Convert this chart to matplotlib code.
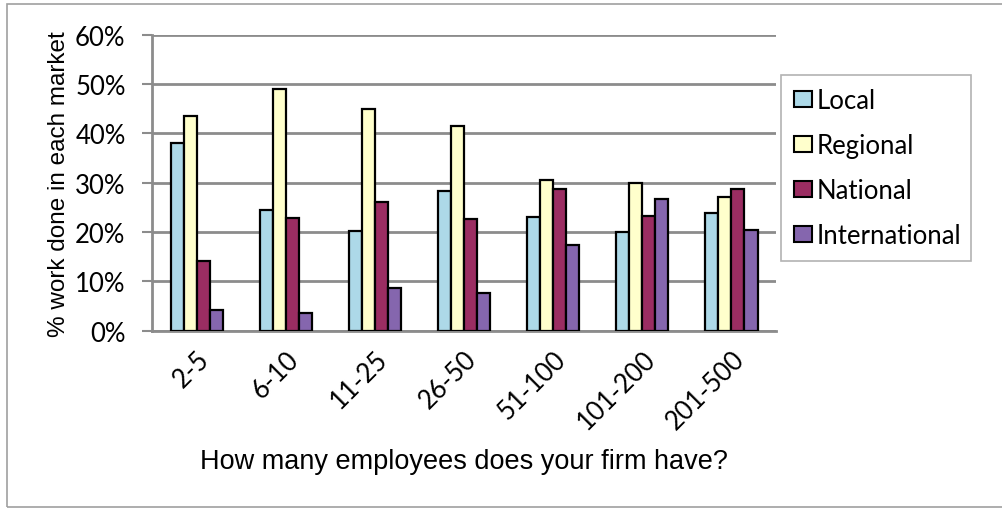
import numpy as np
import matplotlib.pyplot as plt
from matplotlib.patches import Rectangle

categories = ["2-5", "6-10", "11-25", "26-50", "51-100", "101-200", "201-500"]
local = [38.0, 24.5, 20.3, 28.3, 23.1, 20.0, 23.8]
regional = [43.6, 49.0, 44.9, 41.4, 30.6, 30.0, 27.1]
national = [14.1, 22.8, 26.1, 22.7, 28.8, 23.3, 28.8]
international = [4.2, 3.5, 8.7, 7.6, 17.3, 26.6, 20.4]
series_names = ["Local", "Regional", "National", "International"]
yticks = [0, 10, 20, 30, 40, 50, 60]

colors = ["#ADD9E8", "#FFFFCC", "#9B2D62", "#8566AE"]
grid_c = "#8C8C8C"

fig = plt.figure(figsize=(10.02, 5.10), dpi=100)
ax = fig.add_axes([0.1517, 0.3496, 0.6228, 0.5804])

# outer chart border
fig.patches.append(Rectangle((7 / 1002, 2 / 510), 1.2, 503 / 510, transform=fig.transFigure,
                             fill=False, edgecolor="#A0A0A0", linewidth=1.2))

x = np.arange(len(categories))
w = 0.146
for i, (vals, name) in enumerate(zip([local, regional, national, international], series_names)):
    ax.bar(x + (i - 1.5) * w, vals, w, color=colors[i], edgecolor="black",
           linewidth=1.6, label=name, zorder=3)

ax.set_xlim(-0.5, len(categories) - 0.5)
ax.set_ylim(0, 60)
ax.set_yticks(yticks)
ax.set_yticklabels([f"{v}%" for v in yticks], fontfamily="Lato", fontsize=18.5)
ax.yaxis.grid(True, color=grid_c, linewidth=2, zorder=0)
ax.tick_params(axis="y", length=7, width=1.5, color=grid_c, pad=12)
ax.tick_params(axis="x", length=0, pad=11)
ax.set_xticks(x)
ax.set_xticklabels(categories, rotation=45, ha="right", rotation_mode="anchor",
                   fontfamily="Lato", fontsize=18.5)

for s in ["top", "right"]:
    ax.spines[s].set_visible(False)
ax.spines["left"].set_color(grid_c)
ax.spines["left"].set_linewidth(2)
ax.spines["bottom"].set_color(grid_c)
ax.spines["bottom"].set_linewidth(2)

ax.set_ylabel("% work done in each market", fontfamily="Liberation Sans", fontsize=17.5, labelpad=4)
ax.set_xlabel("How many employees does your firm have?", fontfamily="Liberation Sans",
              fontsize=19.5, labelpad=10)

leg = ax.legend(loc="upper left", bbox_to_anchor=(781 / 1002, 1 - 259 / 510, 190 / 1002, 183 / 510),
                bbox_transform=fig.transFigure, mode="expand", frameon=True, fancybox=False,
                prop={"family": "Lato", "size": 18.5}, handlelength=0.7, handleheight=0.6,
                handletextpad=0.2, labelspacing=0.78, borderpad=0.5, borderaxespad=0)
leg.get_frame().set_edgecolor("#A0A0A0")
leg.get_frame().set_linewidth(1.2)
for h in leg.legend_handles:
    h.set_linewidth(1.5)

fig.savefig("out.png", dpi=100)
